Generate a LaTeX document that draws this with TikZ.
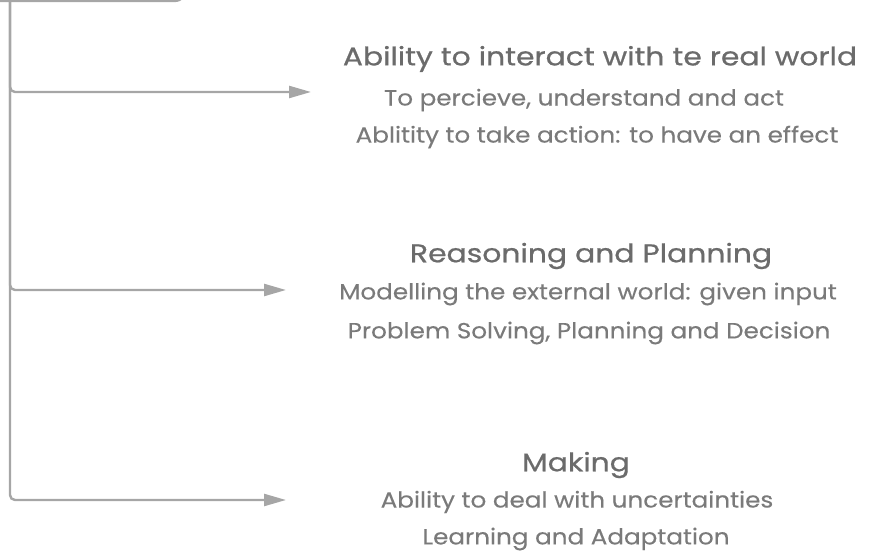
\documentclass[tikz,border=0pt]{standalone}
\usepackage{fontspec}
\setmainfont{Poppins}
\newfontfamily\ttlfont[FakeStretch=1.17,FakeBold=0.7]{Poppins}
\newfontfamily\subfont[FakeStretch=1.12,FakeBold=0.25]{Poppins}
\usetikzlibrary{arrows.meta}
\definecolor{linec}{HTML}{A6A6A6}
\definecolor{titlec}{HTML}{6B6B6B}
\definecolor{subc}{HTML}{7A7A7A}
\tikzset{
  conn/.style={draw=linec, line width=2.4pt, rounded corners=5pt, -{Triangle[length=22pt,width=12pt]}},
  topbox/.style={draw=linec, line width=2.4pt, rounded corners=14pt},
  ttl/.style={text=titlec, font=\ttlfont\fontsize{25.5}{30}\selectfont, inner sep=0pt, anchor=center},
  sub/.style={text=subc, font=\subfont\fontsize{22}{26}\selectfont, inner sep=0pt, anchor=center},
}
\begin{document}
\begin{tikzpicture}[x=1pt,y=1pt]
\useasboundingbox (0,0) rectangle (875,554);
\begin{scope}
\clip (0,0) rectangle (875,554);
\draw[topbox] (-30,640) rectangle (188,553);
\end{scope}
\coordinate (root) at (10,553);
\coordinate (e1) at (311,462);
\coordinate (e2) at (286,264);
\coordinate (e3) at (286,54);
\draw[conn] (root) |- (e1);
\draw[conn] (root) |- (e2);
\draw[conn] (root) |- (e3);
\node[ttl] (t1) at (600,495) {Ability to interact with te real world};
\node[sub] (s1a) at (584,454) {To percieve, understand and act};
\node[sub] (s1b) at (597,417) {Ablitity to take action: to have an effect};
\node[ttl] (t2) at (591,298) {Reasoning and Planning};
\node[sub] (s2a) at (588,260) {Modelling the external world: given input};
\node[sub] (s2b) at (589,221) {Problem Solving, Planning and Decision};
\node[ttl] (t3) at (576,89) {Making};
\node[sub] (s3a) at (577,52) {Ability to deal with uncertainties};
\node[sub] (s3b) at (576,15) {Learning and Adaptation};
\end{tikzpicture}
\end{document}
